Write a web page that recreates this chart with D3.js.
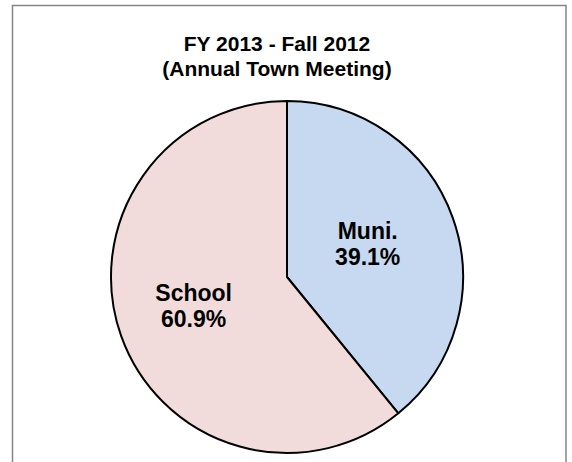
<!DOCTYPE html>
<html>
<head>
<script src="https://cdn.jsdelivr.net/npm/d3@7"></script>
<style>
  body { margin: 0; background: #fff; }
  text { font-family: "Liberation Sans", Arial, sans-serif; font-weight: bold; fill: #000; }
</style>
</head>
<body>
<div id="chart"></div>
<script>
var titleLines = ["FY 2013 - Fall 2012", "(Annual Town Meeting)"];
var categories = ["Muni.", "School"];
var shares = [39.1, 60.9];
var sliceColors = ["#c6d9f0", "#f2dcdb"];

var width = 572, height = 462;
var cx = 287, cy = 277, r = 176;

var svg = d3.select("#chart").append("svg")
    .attr("width", width)
    .attr("height", height);

// chart frame (bottom edge is off the picture)
svg.append("rect")
    .attr("x", 12.5).attr("y", 5.5)
    .attr("width", 553.5).attr("height", 480)
    .attr("fill", "#fff")
    .attr("stroke", "#858585")
    .attr("stroke-width", 1.5);

svg.selectAll("text.title")
    .data(titleLines)
    .enter().append("text")
    .attr("class", "title")
    .attr("x", 277)
    .attr("y", function (d, i) { return 51 + i * 25; })
    .attr("text-anchor", "middle")
    .style("font-size", "21px")
    .text(function (d) { return d; });

var data = categories.map(function (c, i) { return { name: c, value: shares[i], color: sliceColors[i] }; });

var pie = d3.pie().sort(null).value(function (d) { return d.value; });
var arc = d3.arc().innerRadius(0).outerRadius(r);

// bigger slices push their label a bit further out
function labelPos(d) {
    var frac = (d.endAngle - d.startAngle) / (2 * Math.PI);
    var lr = r * (0.35 + 0.35 * frac);
    return d3.arc().innerRadius(lr).outerRadius(lr).centroid(d);
}

var g = svg.append("g").attr("transform", "translate(" + cx + "," + cy + ")");

var slices = g.selectAll("g.slice")
    .data(pie(data))
    .enter().append("g").attr("class", "slice");

slices.append("path")
    .attr("d", arc)
    .attr("fill", function (d) { return d.data.color; })
    .attr("stroke", "#000")
    .attr("stroke-width", 2)
    .attr("stroke-linejoin", "round");

var labels = slices.append("text")
    .attr("text-anchor", "middle")
    .style("font-size", "23px")
    .attr("transform", function (d) {
        var c = labelPos(d);
        return "translate(" + c[0] + "," + c[1] + ")";
    });
labels.append("tspan").attr("x", 0).attr("y", -9.5).text(function (d) { return d.data.name; });
labels.append("tspan").attr("x", 0).attr("y", 16.5).text(function (d) { return d.data.value.toFixed(1) + "%"; });
</script>
</body>
</html>
